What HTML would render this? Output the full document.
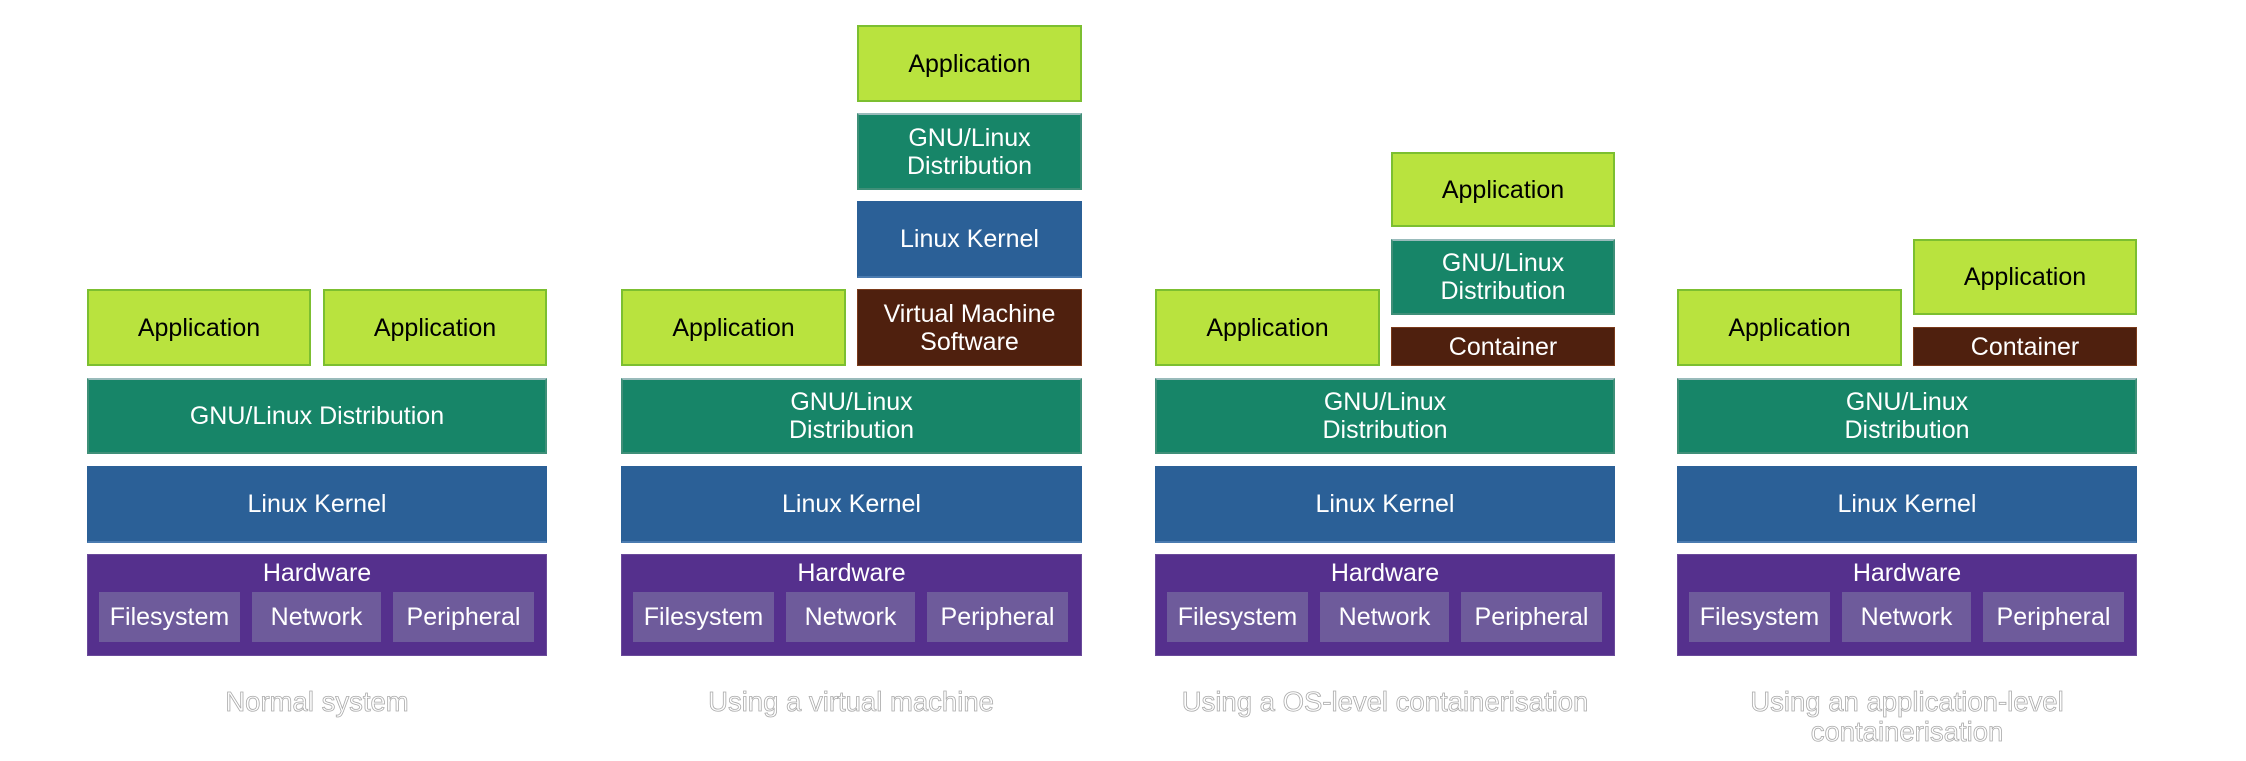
<!DOCTYPE html>
<html><head><meta charset="utf-8"><style>
html,body{margin:0;padding:0;background:#fff;}
body{width:2246px;height:761px;position:relative;overflow:hidden;font-family:"Liberation Sans",sans-serif;}
.b{position:absolute;box-sizing:border-box;display:flex;align-items:center;justify-content:center;text-align:center;font-size:25px;line-height:28px;color:#fff;}
.app{background:#b9e33e;border:2px solid #7cbf30;color:#000;}
.dis{background:#178568;border:2px solid #3f8f78;border-top-color:#9bb;}
.ker{background:#2b6097;border:1px solid #2b6097;border-bottom:2px solid #4a7bb0;}
.vm{background:#4f200e;border:1px solid #7a3a1a;}
.hw{background:#55308d;border:1px solid #6a4a9a;align-items:flex-start;padding-top:4px;}
.sub{background:#6e5b9b;}
.cap{position:absolute;text-align:center;font-size:27.5px;line-height:30px;color:#fff;-webkit-text-stroke:0.8px #aaa;width:500px;}
</style></head><body>

<!-- Column 1 -->
<div class="b app" style="left:87px;top:289px;width:224px;height:77px;">Application</div>
<div class="b app" style="left:323px;top:289px;width:224px;height:77px;">Application</div>
<div class="b dis" style="left:87px;top:378px;width:460px;height:76px;">GNU/Linux Distribution</div>
<div class="b ker" style="left:87px;top:466px;width:460px;height:77px;">Linux Kernel</div>
<div class="b hw" style="left:87px;top:554px;width:460px;height:102px;">Hardware</div>
<div class="b sub" style="left:99px;top:592px;width:141px;height:50px;">Filesystem</div>
<div class="b sub" style="left:252px;top:592px;width:129px;height:50px;">Network</div>
<div class="b sub" style="left:393px;top:592px;width:141px;height:50px;">Peripheral</div>
<div class="cap" style="left:67px;top:687px;">Normal system</div>

<!-- Column 2 -->
<div class="b app" style="left:857px;top:25px;width:225px;height:77px;">Application</div>
<div class="b dis" style="left:857px;top:113px;width:225px;height:77px;">GNU/Linux<br>Distribution</div>
<div class="b ker" style="left:857px;top:201px;width:225px;height:77px;">Linux Kernel</div>
<div class="b app" style="left:621px;top:289px;width:225px;height:77px;">Application</div>
<div class="b vm" style="left:857px;top:289px;width:225px;height:77px;">Virtual Machine<br>Software</div>
<div class="b dis" style="left:621px;top:378px;width:461px;height:76px;">GNU/Linux<br>Distribution</div>
<div class="b ker" style="left:621px;top:466px;width:461px;height:77px;">Linux Kernel</div>
<div class="b hw" style="left:621px;top:554px;width:461px;height:102px;">Hardware</div>
<div class="b sub" style="left:633px;top:592px;width:141px;height:50px;">Filesystem</div>
<div class="b sub" style="left:786px;top:592px;width:129px;height:50px;">Network</div>
<div class="b sub" style="left:927px;top:592px;width:141px;height:50px;">Peripheral</div>
<div class="cap" style="left:601px;top:687px;">Using a virtual machine</div>

<!-- Column 3 -->
<div class="b app" style="left:1391px;top:152px;width:224px;height:75px;">Application</div>
<div class="b dis" style="left:1391px;top:239px;width:224px;height:76px;">GNU/Linux<br>Distribution</div>
<div class="b app" style="left:1155px;top:289px;width:225px;height:77px;">Application</div>
<div class="b vm" style="left:1391px;top:327px;width:224px;height:39px;">Container</div>
<div class="b dis" style="left:1155px;top:378px;width:460px;height:76px;">GNU/Linux<br>Distribution</div>
<div class="b ker" style="left:1155px;top:466px;width:460px;height:77px;">Linux Kernel</div>
<div class="b hw" style="left:1155px;top:554px;width:460px;height:102px;">Hardware</div>
<div class="b sub" style="left:1167px;top:592px;width:141px;height:50px;">Filesystem</div>
<div class="b sub" style="left:1320px;top:592px;width:129px;height:50px;">Network</div>
<div class="b sub" style="left:1461px;top:592px;width:141px;height:50px;">Peripheral</div>
<div class="cap" style="left:1135px;top:687px;">Using a OS-level containerisation</div>

<!-- Column 4 -->
<div class="b app" style="left:1913px;top:239px;width:224px;height:76px;">Application</div>
<div class="b app" style="left:1677px;top:289px;width:225px;height:77px;">Application</div>
<div class="b vm" style="left:1913px;top:327px;width:224px;height:39px;">Container</div>
<div class="b dis" style="left:1677px;top:378px;width:460px;height:76px;">GNU/Linux<br>Distribution</div>
<div class="b ker" style="left:1677px;top:466px;width:460px;height:77px;">Linux Kernel</div>
<div class="b hw" style="left:1677px;top:554px;width:460px;height:102px;">Hardware</div>
<div class="b sub" style="left:1689px;top:592px;width:141px;height:50px;">Filesystem</div>
<div class="b sub" style="left:1842px;top:592px;width:129px;height:50px;">Network</div>
<div class="b sub" style="left:1983px;top:592px;width:141px;height:50px;">Peripheral</div>
<div class="cap" style="left:1657px;top:687px;">Using an application-level<br>containerisation</div>

</body></html>
